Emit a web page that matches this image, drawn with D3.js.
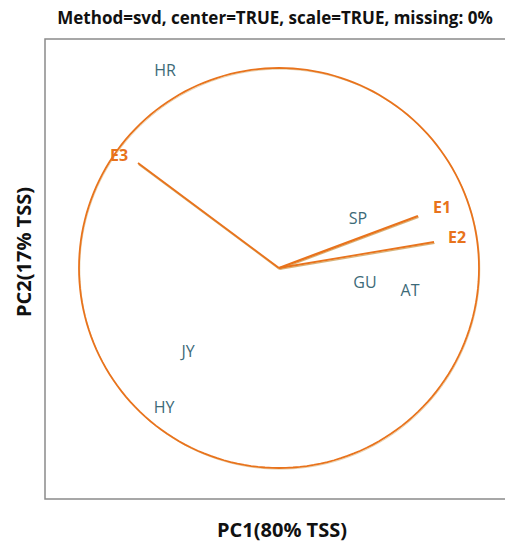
<!DOCTYPE html>
<html>
<head>
<meta charset="utf-8">
<script src="https://cdn.jsdelivr.net/npm/d3@7/dist/d3.min.js"></script>
<style>
  html, body { margin: 0; padding: 0; background: #fff; }
  svg { display: block; }
  text { font-family: "Open Sans", "Noto Sans", sans-serif; }
</style>
</head>
<body>
<svg id="chart" width="505" height="541"></svg>
<script>
// Sample scores (PC1, PC2)
const sampleNames = ["HR", "SP", "GU", "AT", "JY", "HY"];
const samplePC1 = [-0.57, 0.395, 0.43, 0.655, -0.455, -0.575];
const samplePC2 = [0.99, 0.25, -0.07, -0.11, -0.415, -0.695];

// Variable loadings (arrows)
const varNames = ["E1", "E2", "E3"];
const varPC1 = [0.695, 0.775, -0.705];
const varPC2 = [0.26, 0.13, 0.525];

const titleText = "Method=svd, center=TRUE, scale=TRUE, missing: 0%";
const xLabel = "PC1(80% TSS)";
const yLabel = "PC2(17% TSS)";

const svg = d3.select("#chart");
const plot = { left: 45, top: 39, right: 513, bottom: 499 };

const x = d3.scaleLinear().domain([-1.17, 1.17]).range([plot.left, plot.right]);
const y = d3.scaleLinear().domain([-1.155, 1.145]).range([plot.bottom, plot.top]);

const orange = "#e8731c";
const tan = "#d8b47a";
const teal = "#3d6a78";

// Plot frame
svg.append("rect")
  .attr("x", plot.left).attr("y", plot.top)
  .attr("width", plot.right - plot.left).attr("height", plot.bottom - plot.top)
  .attr("fill", "none").attr("stroke", "#8a8a8a").attr("stroke-width", 1.5);

// Unit correlation circle
const angles = d3.range(0, 361, 2).map(a => a * Math.PI / 180);
const circleLine = d3.line().x(a => x(Math.cos(a))).y(a => y(Math.sin(a)));
svg.append("path").datum(angles)
  .attr("d", circleLine).attr("fill", "none")
  .attr("stroke", tan).attr("stroke-width", 1).attr("opacity", 0.6)
  .attr("transform", "translate(0.8,1.2)");
svg.append("path").datum(angles)
  .attr("d", circleLine).attr("fill", "none")
  .attr("stroke", orange).attr("stroke-width", 1.8);

// Loading arrows
const vars = varNames.map((n, i) => ({ name: n, pc1: varPC1[i], pc2: varPC2[i] }));
svg.selectAll("line.shadow").data(vars).enter().append("line")
  .attr("class", "shadow")
  .attr("x1", x(0)).attr("y1", y(0))
  .attr("x2", d => x(d.pc1)).attr("y2", d => y(d.pc2))
  .attr("stroke", tan).attr("stroke-width", 1.2)
  .attr("transform", "translate(0.6,1.4)");
svg.selectAll("line.arrow").data(vars).enter().append("line")
  .attr("class", "arrow")
  .attr("x1", x(0)).attr("y1", y(0))
  .attr("x2", d => x(d.pc1)).attr("y2", d => y(d.pc2))
  .attr("stroke", orange).attr("stroke-width", d => d.name === "E1" ? 2.4 : 1.8);

// Loading labels
const varOffsets = { E1: [24, -9], E2: [23, -5], E3: [-19, -8] };
svg.selectAll("text.var").data(vars).enter().append("text")
  .attr("class", "var")
  .attr("x", d => x(d.pc1) + varOffsets[d.name][0])
  .attr("y", d => y(d.pc2) + varOffsets[d.name][1])
  .attr("text-anchor", "middle").attr("dominant-baseline", "central")
  .attr("font-size", 16).attr("font-weight", "bold")
  .attr("fill", orange).text(d => d.name);

// Sample labels
const samples = sampleNames.map((n, i) => ({ name: n, pc1: samplePC1[i], pc2: samplePC2[i] }));
svg.selectAll("text.sample").data(samples).enter().append("text")
  .attr("class", "sample")
  .attr("x", d => x(d.pc1)).attr("y", d => y(d.pc2))
  .attr("text-anchor", "middle").attr("dominant-baseline", "central")
  .attr("font-size", 16).attr("fill", teal).text(d => d.name);

// Title and axis titles
svg.append("text").attr("x", 275).attr("y", 17)
  .attr("text-anchor", "middle").attr("dominant-baseline", "central")
  .attr("font-size", 17).attr("font-weight", "bold").attr("fill", "#111")
  .text(titleText);
svg.append("text").attr("x", 282).attr("y", 529)
  .attr("text-anchor", "middle").attr("dominant-baseline", "central")
  .attr("font-size", 20).attr("font-weight", "bold").attr("fill", "#111")
  .text(xLabel);
svg.append("text")
  .attr("transform", "translate(23,252) rotate(-90)")
  .attr("text-anchor", "middle").attr("dominant-baseline", "central")
  .attr("font-size", 20).attr("font-weight", "bold").attr("fill", "#111")
  .text(yLabel);
</script>
</body>
</html>
